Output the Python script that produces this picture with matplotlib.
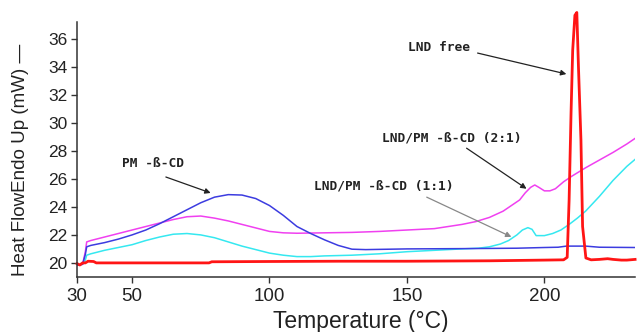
import matplotlib
matplotlib.use("Agg")
import matplotlib.pyplot as plt

# ---- data ----
t_blue = [30, 32, 33, 33.5, 35, 40, 45, 50, 55, 60, 65, 70, 75, 80, 85, 90, 95, 100,
          105, 110, 115, 120, 125, 130, 135, 150, 170, 190, 200, 205, 208, 215, 220, 233]
v_blue = [19.85, 19.9, 20.6, 21.15, 21.25, 21.45, 21.7, 22.0, 22.35, 22.8, 23.3, 23.8, 24.3,
          24.7, 24.88, 24.85, 24.6, 24.1, 23.4, 22.6, 22.1, 21.65, 21.25, 20.98, 20.95, 21.0,
          21.02, 21.05, 21.1, 21.12, 21.2, 21.2, 21.12, 21.1]

t_mag = [30, 32, 33, 33.5, 35, 40, 45, 50, 55, 60, 65, 70, 75, 80, 85, 90, 95, 100, 105,
         110, 120, 130, 140, 150, 160, 170, 175, 180, 185, 188, 191, 193, 195, 196.5, 198,
         200, 202, 204, 207, 210, 215, 220, 225, 230, 233]
v_mag = [19.85, 19.9, 20.8, 21.5, 21.6, 21.85, 22.1, 22.35, 22.6, 22.85, 23.1, 23.3, 23.35,
         23.2, 23.0, 22.75, 22.5, 22.25, 22.15, 22.12, 22.15, 22.18, 22.25, 22.35, 22.45,
         22.75, 22.95, 23.25, 23.7, 24.1, 24.5, 25.0, 25.4, 25.57, 25.4, 25.15, 25.15, 25.3,
         25.8, 26.2, 26.8, 27.35, 27.9, 28.5, 28.9]

t_cyan = [30, 32, 33, 33.5, 35, 40, 45, 50, 55, 60, 65, 70, 75, 80, 85, 90, 95, 100, 105,
          110, 115, 120, 130, 140, 150, 160, 170, 176, 180, 184, 187, 190, 192, 194, 195.5,
          197, 200, 203, 206, 209, 212, 215, 220, 225, 230, 233]
v_cyan = [19.85, 19.9, 20.2, 20.55, 20.65, 20.9, 21.1, 21.3, 21.6, 21.85, 22.05, 22.1, 22.0,
          21.8, 21.5, 21.2, 20.95, 20.7, 20.55, 20.45, 20.45, 20.5, 20.55, 20.65, 20.8, 20.9,
          21.0, 21.05, 21.15, 21.35, 21.6, 22.0, 22.35, 22.52, 22.4, 21.95, 21.95, 22.1,
          22.35, 22.75, 23.2, 23.7, 24.75, 25.9, 26.9, 27.4]

t_red = [30, 31, 32, 33, 34, 36, 37, 40, 60, 78, 79, 100, 125, 150, 180, 200, 207, 208.3,
         209, 209.7, 210.3, 211.1, 211.8, 212.4, 213.3, 213.9, 215.1, 217, 220, 223, 225,
         228, 230, 233]
v_red = [19.95, 19.85, 20.0, 20.0, 20.12, 20.1, 20.0, 20.0, 20.0, 20.0, 20.08, 20.1, 20.12,
         20.12, 20.15, 20.2, 20.22, 20.4, 24.5, 30.7, 35.2, 37.7, 37.9, 34.0, 28.8, 22.6,
         20.35, 20.22, 20.25, 20.3, 20.25, 20.2, 20.2, 20.25]

x_ticks = [30, 50, 100, 150, 200]
y_ticks = [20, 22, 24, 26, 28, 30, 32, 34, 36]

labels = ["PM -ß-CD", "LND free", "LND/PM -ß-CD (2:1)", "LND/PM -ß-CD (1:1)"]
label_pos = [(57.8, 27.1), (161.6, 35.43), (166.3, 28.93), (141.7, 25.5)]
arrow_start = [(62.3, 26.14), (175.7, 35.0), (171.7, 28.2), (157.2, 24.7)]
arrow_tip = [(78.6, 25.0), (208.0, 33.5), (193.5, 25.3), (188.0, 21.86)]

# ---- figure ----
plt.rcParams['font.family'] = ['Liberation Sans', 'DejaVu Sans']
fig = plt.figure(figsize=(6.37, 3.32), dpi=100)
ax = fig.add_axes([0.121, 0.166, 0.876, 0.769])

ax.plot(t_cyan, v_cyan, color='#35e8f0', lw=1.1)
ax.plot(t_mag, v_mag, color='#f040f0', lw=1.1)
ax.plot(t_blue, v_blue, color='#3c3ce0', lw=1.1)
ax.plot(t_red, v_red, color='#ff1515', lw=2.0, clip_on=False)

ax.set_xlim(30, 233)
ax.set_ylim(19, 37.25)
ax.set_xticks(x_ticks)
ax.set_yticks(y_ticks)
ax.tick_params(axis='both', length=4, width=1, color='#333333', direction='out',
               labelcolor='#222222')
ax.tick_params(axis='x', labelsize=13.5, pad=4)
ax.tick_params(axis='y', labelsize=12.5, pad=3)
for s in ['top', 'right']:
    ax.spines[s].set_visible(False)
for s in ['left', 'bottom']:
    ax.spines[s].set_color('#333333')
    ax.spines[s].set_linewidth(1.1)

ax.set_xlabel("Temperature (°C)", fontsize=16.5, color='#222222', va='center')
ax.xaxis.set_label_coords(0.509, -0.176)
ax.set_ylabel("Heat FlowEndo Up (mW) —", fontsize=13.5, color='#222222', va='center')
ax.yaxis.set_label_coords(-0.102, 0.458)

for i, (txt, pos, st, tip) in enumerate(zip(labels, label_pos, arrow_start, arrow_tip)):
    light = (i == 3)
    ax.annotate("", xy=tip, xytext=st,
                arrowprops=dict(arrowstyle='-|>', color='#888888' if light else '#222222',
                                lw=0.9, mutation_scale=8, shrinkA=0, shrinkB=0))
    ax.text(pos[0], pos[1], txt, fontsize=9.3, family='DejaVu Sans Mono', weight='bold',
            ha='center', va='center', color='#222222')

fig.savefig("out.png", dpi=100)
